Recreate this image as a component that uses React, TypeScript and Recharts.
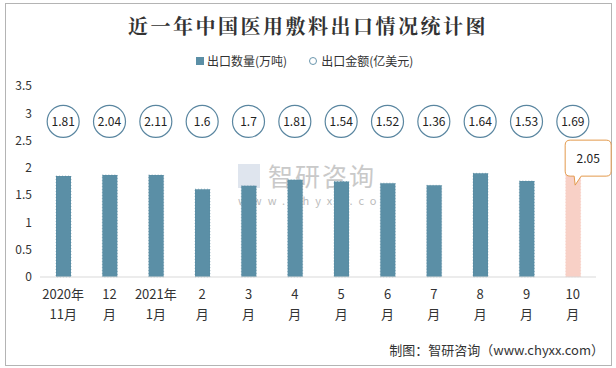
import React from 'react';
import { ComposedChart, Bar, Line, XAxis, YAxis, Cell, LabelList } from 'recharts';

// 出口数量(万吨) and 出口金额(亿美元), Nov 2020 - Oct 2021
const months = ['2020年\n11月', '12\n月', '2021年\n1月', '2\n月', '3\n月', '4\n月', '5\n月', '6\n月', '7\n月', '8\n月', '9\n月', '10\n月'];
const volume = [1.85, 1.87, 1.87, 1.61, 1.67, 1.78, 1.75, 1.72, 1.68, 1.9, 1.76, 2.05];
const amount = [1.81, 2.04, 2.11, 1.6, 1.7, 1.81, 1.54, 1.52, 1.36, 1.64, 1.53, 1.69];
const yTicks = [0, 0.5, 1, 1.5, 2, 2.5, 3, 3.5];

// row height where the amount bubbles sit (in axis units)
const BUBBLE_ROW = 2.85;

const chartData = months.map((m, i) => ({ month: m, volume: volume[i], amount: amount[i] }));

const FONT = '"Noto Sans CJK SC", "Noto Sans", sans-serif';
const BAR = '#5b8fa6';
const HIGHLIGHT = '#f8d0c6';

const MonthTick = (props: any) => {
  const { x, y, payload } = props;
  const lines = String(payload.value).split('\n');
  return (
    <g transform={`translate(${x},${y})`}>
      {lines.map((l, i) => (
        <text key={i} x={0} y={14 + i * 20} textAnchor="middle" fontSize={13} fill="#333" fontFamily={FONT}>
          {l}
        </text>
      ))}
    </g>
  );
};

const Bubble = (props: any) => {
  const { cx, cy, payload } = props;
  if (cx == null || cy == null) return null;
  return (
    <g>
      <circle cx={cx} cy={cy} r={16} fill="#fff" stroke="#5a86a0" strokeWidth={1.2} />
      <text x={cx} y={cy + 4.5} textAnchor="middle" fontSize={12} fill="#222" fontFamily={FONT}>
        {payload.amount}
      </text>
    </g>
  );
};

const Callout = (props: any) => {
  const { x, y, width, value, index } = props;
  if (index !== volume.length - 1) return null;
  const cx = x + width / 2;
  const left = cx - 8;
  const top = y - 25;
  const w = 46;
  const h = 36;
  const r = 5;
  const path = `M${left + r},${top} H${left + w - r} Q${left + w},${top} ${left + w},${top + r} V${top + h - r} Q${left + w},${top + h} ${left + w - r},${top + h} H${cx + 8} L${cx + 2},${top + h + 9} L${cx + 1},${top + h} H${left + r} Q${left},${top + h} ${left},${top + h - r} V${top + r} Q${left},${top} ${left + r},${top} Z`;
  return (
    <g>
      <path d={path} fill="#fff" stroke="#e39a4c" strokeWidth={1} />
      <text x={left + w / 2} y={top + h / 2 + 4.5} textAnchor="middle" fontSize={12} fill="#222" fontFamily={FONT}>
        {value}
      </text>
    </g>
  );
};

export default function App() {
  return (
    <div style={{ position: 'absolute', left: 0, top: 0, width: 616, height: 368, background: '#fff', fontFamily: FONT }}>
      <div style={{ position: 'absolute', left: 5, top: 3, width: 605, height: 361, border: '1px solid #b4b4b4' }} />
      <div style={{ position: 'absolute', left: 0, top: 11, width: 616, textAlign: 'center', fontSize: 20, fontWeight: 700, letterSpacing: 2.5, color: '#333', fontFamily: '"Noto Serif CJK SC", "Noto Sans CJK SC", serif' }}>
        近一年中国医用敷料出口情况统计图
      </div>
      <div style={{ position: 'absolute', left: 196, top: 52, fontSize: 12, color: '#333', display: 'flex', alignItems: 'center' }}>
        <span style={{ display: 'inline-block', width: 8, height: 8, background: BAR, marginRight: 3 }} />
        <span>出口数量(万吨)</span>
        <span style={{ display: 'inline-block', width: 6, height: 6, borderRadius: '50%', border: '1px solid #6a96ad', marginLeft: 22, marginRight: 4 }} />
        <span>出口金额(亿美元)</span>
      </div>
      {/* watermark */}
      <div style={{ position: 'absolute', left: 238, top: 164, width: 22, height: 24, background: '#c9d3e2', opacity: 0.6 }} />
      <div style={{ position: 'absolute', left: 268, top: 163, fontSize: 25, lineHeight: '25px', color: '#bcbcbc', opacity: 0.8, letterSpacing: 2 }}>智研咨询</div>
      <div style={{ position: 'absolute', left: 238, top: 195, fontSize: 11, lineHeight: '11px', color: '#bcbcbc', letterSpacing: 6 }}>www.chyxx.com</div>

      <div style={{ position: 'absolute', left: 0, top: 0 }}>
        <ComposedChart width={616} height={368} data={chartData} margin={{ top: 86, right: 20, left: 0, bottom: 41 }} barSize={15}>
          <XAxis
            dataKey="month"
            interval={0}
            tick={<MonthTick />}
            tickLine={false}
            axisLine={{ stroke: '#d9d9d9' }}
            height={50}
          />
          <YAxis
            domain={[0, 3.5]}
            ticks={yTicks}
            tickLine={false}
            axisLine={false}
            width={40}
            tick={{ fontSize: 12, fill: '#333', fontFamily: FONT }}
          />
          <Bar dataKey="volume" isAnimationActive={false} stroke="#4f8099" strokeWidth={0.5} strokeDasharray="1 2">
            {chartData.map((_, i) => (
              <Cell key={i} fill={i === volume.length - 1 ? HIGHLIGHT : BAR} stroke={i === volume.length - 1 ? '#f2c1b4' : '#4f8099'} />
            ))}
            <LabelList dataKey="volume" content={<Callout />} />
          </Bar>
          <Line dataKey={() => BUBBLE_ROW} stroke="none" dot={<Bubble />} activeDot={false} isAnimationActive={false} />
        </ComposedChart>
      </div>
      <div style={{ position: 'absolute', right: 12, top: 340, fontSize: 13, color: '#333' }}>
        制图：智研咨询（www.chyxx.com）
      </div>
    </div>
  );
}
